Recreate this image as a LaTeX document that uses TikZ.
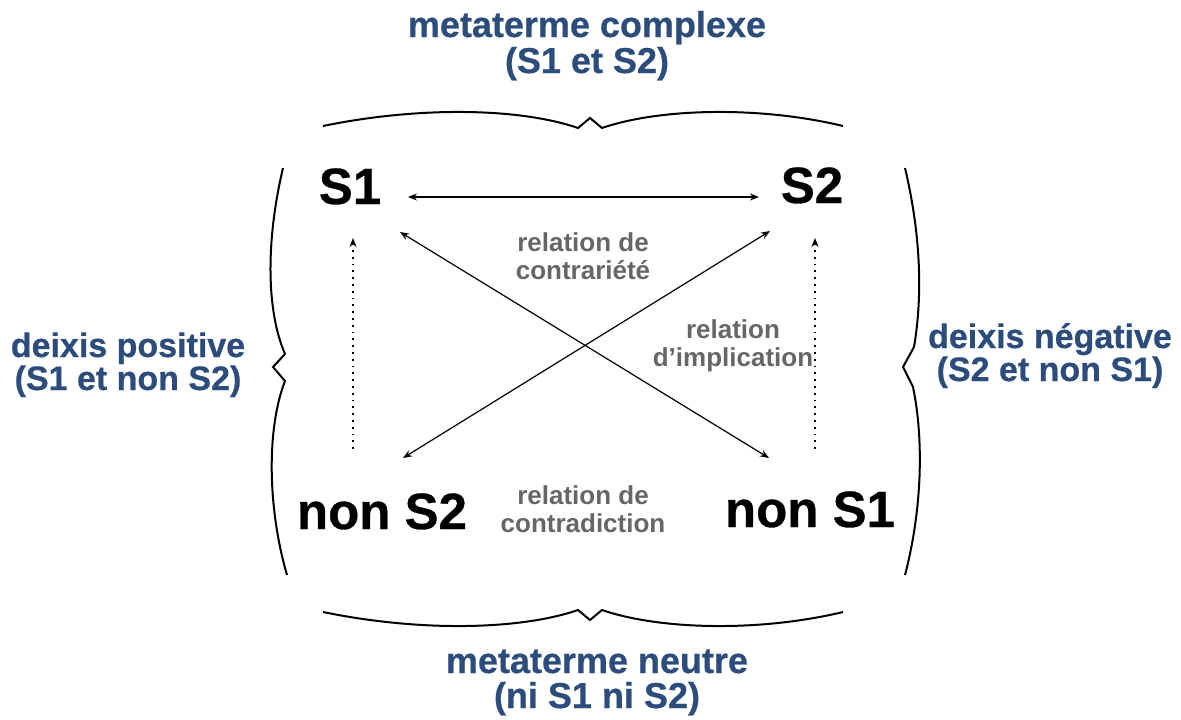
\documentclass[tikz,border=0pt]{standalone}
\usepackage{fontspec}
\setmainfont{Liberation Sans}
\newfontfamily\heavy{Liberation Sans}[BoldFeatures={FakeBold=0.6}]
\usetikzlibrary{arrows.meta}
\definecolor{deepblue}{HTML}{2C4D7B}
\definecolor{labelgray}{HTML}{666666}
\begin{document}
\begin{tikzpicture}[x=1pt,y=-1pt,
  term/.style={font=\heavy\fontsize{51}{56}\selectfont\bfseries, inner sep=0pt, anchor=base},
  meta/.style={font=\heavy\fontsize{36}{36}\selectfont\bfseries, text=deepblue, inner sep=0pt, anchor=base},
  side/.style={font=\heavy\fontsize{34}{34}\selectfont\bfseries, text=deepblue, inner sep=0pt, anchor=base},
  rel/.style={font=\fontsize{26}{28}\selectfont\bfseries, text=labelgray, align=center, inner sep=0pt},
  brace/.style={line width=2pt, line join=miter},
  link/.style={line width=1.2pt, {Stealth[length=9pt,width=7pt]}-{Stealth[length=9pt,width=7pt]}},
  imp/.style={line width=1.8pt, dash pattern=on 1.8pt off 5pt, -{Stealth[length=9pt,width=7pt]}}]
\useasboundingbox (0,0) rectangle (1181,720);
% terms
\node[term] (s1) at (350,204) {S1};
\node[term] (s2) at (812,203) {S2};
\node[term] (ns2) at (382,529) {non S2};
\node[term] (ns1) at (810,527) {non S1};
% meta labels
\node[meta] (top1) at (587,37) {metaterme complexe};
\node[meta] (top2) at (587,73) {(S1 et S2)};
\node[meta] (bot1) at (597,673) {metaterme neutre};
\node[meta] (bot2) at (597,708) {(ni S1 ni S2)};
\node[side] (left1) at (128,357) {deixis positive};
\node[side] (left2) at (128,390) {(S1 et non S2)};
\node[side] (right1) at (1050,348) {deixis négative};
\node[side] (right2) at (1050,381) {(S2 et non S1)};
% relation labels
\node[rel] (contr) at (583,256) {relation de\\contrariété};
\node[rel] (impl) at (733,346) {relation\\d’implication};
\node[rel] (contd) at (583,509) {relation de\\contradiction};
% arrow end points
\coordinate (h1) at (408,197);
\coordinate (h2) at (759,197);
\coordinate (d1a) at (400,232);
\coordinate (d1b) at (769,458);
\coordinate (d2a) at (403,458);
\coordinate (d2b) at (770,231);
\coordinate (v1a) at (353,449);
\coordinate (v1b) at (353,238);
\coordinate (v2a) at (815,449);
\coordinate (v2b) at (815,238);
% connectors
\draw[link] (h1) -- (h2);
\draw[link] (d1a) -- (d1b);
\draw[link] (d2a) -- (d2b);
\draw[imp] (v1a) -- (v1b);
\draw[imp] (v2a) -- (v2b);
% braces
\draw[brace] (323,126) .. controls (420,106) and (520,108) .. (578,128) -- (590,118) -- (602,128) .. controls (660,108) and (760,106) .. (843,126);
\draw[brace] (323,612) .. controls (420,632) and (520,630) .. (578,610) -- (590,620) -- (602,610) .. controls (660,630) and (760,632) .. (843,612);
\draw[brace] (283,168) .. controls (266,240) and (266,310) .. (285,354) -- (273,367) -- (285,381) .. controls (266,430) and (268,510) .. (287,575);
\draw[brace] (905,168) .. controls (922,240) and (922,300) .. (914,347) -- (903,367) -- (913,387) .. controls (924,440) and (922,510) .. (905,575);
\end{tikzpicture}
\end{document}
